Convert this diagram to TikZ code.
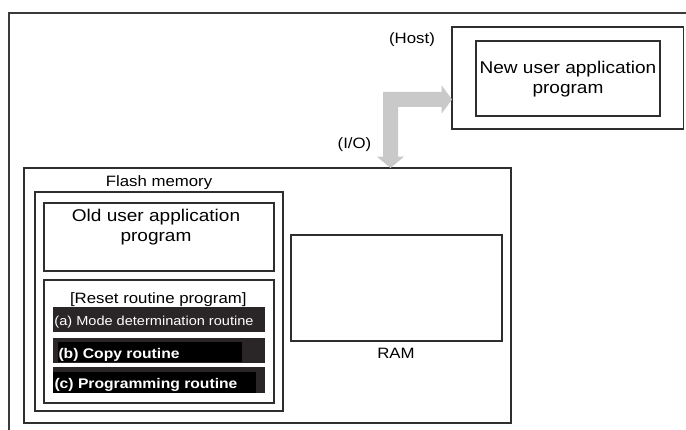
\documentclass[tikz,border=0pt]{standalone}
\usepackage{fontspec}
\setmainfont[FakeStretch=1.12]{Liberation Sans}
\definecolor{ln}{HTML}{2E2E2E}
\definecolor{framecol}{HTML}{3A3A3A}
\definecolor{arrowgray}{HTML}{C9C9C9}
\definecolor{barcol}{HTML}{2A2627}
\begin{document}
\begin{tikzpicture}[x=1pt,y=-1pt,
  box/.style={draw=ln, line width=1.4pt, inner sep=0pt, outer sep=0pt, anchor=north west},
  barbox/.style={fill=barcol, draw=none, inner sep=0pt, outer sep=0pt, anchor=north west},
  patch/.style={fill=black, draw=none, inner sep=0pt, outer sep=0pt, anchor=north west},
  lbl/.style={inner sep=0pt, outer sep=0pt, text=black, anchor=base},
  big/.style={font=\fontsize{17}{20}\selectfont},
  mid/.style={font=\fontsize{15}{18}\selectfont},
  small/.style={font=\fontsize{13}{15}\selectfont},
  boldlbl/.style={inner sep=0pt, outer sep=0pt, text=white, anchor=base west, font=\fontsize{14}{16}\selectfont\bfseries}]
\useasboundingbox (0,0) rectangle (686,430);
% outer frame
\draw[draw=framecol, line width=1.1pt] (9,430) -- (9,13) -- (686,13);
% host
\node[box, minimum width=231.5, minimum height=102] (hostout) at (452,27) {};
\node[box, minimum width=184, minimum height=75] (hostin) at (476,41) {};
\node[lbl, mid] (hostlbl) at (412,44) {(Host)};
\node[lbl, big, align=center] (newapp) at (568,94) {New user application\\program};
% flash memory area
\node[box, minimum width=487, minimum height=255] (chip) at (24,168) {};
\node[box, minimum width=248, minimum height=219] (flash) at (35,192) {};
\node[lbl, mid] (flashlbl) at (159,187) {Flash memory};
\node[box, minimum width=230, minimum height=68] (oldapp) at (44,203) {};
\node[lbl, big, align=center] (oldtxt) at (156,242) {Old user application\\program};
\node[box, minimum width=230, minimum height=123] (reset) at (44,280) {};
\node[lbl, mid] (resettxt) at (158.3,303.5) {[Reset routine program]};
% routine bars
\node[barbox, minimum width=212, minimum height=25] (bara) at (53,307) {};
\node[barbox, minimum width=212, minimum height=25] (barb) at (53,338) {};
\node[barbox, minimum width=212, minimum height=26] (barc) at (53,367) {};
\node[patch, minimum width=184, minimum height=20] (patchb) at (57.7,341.7) {};
\node[patch, minimum width=203, minimum height=21] (patchc) at (53,371.7) {};
\node[lbl, small, text=white] (txta) at (154,325.5) {(a) Mode determination routine};
\node[boldlbl] (txtb) at (58.5,358.5) {(b) Copy routine};
\begin{scope}
  \clip (53,367) rectangle (265,393);
  \node[boldlbl] (txtc) at (54.5,389) {(c) Programming routine};
\end{scope}
% RAM
\node[box, minimum width=211, minimum height=106] (ram) at (291,235) {};
\node[lbl, mid] (ramlbl) at (396,359) {RAM};
% I/O arrow
\node[lbl, mid] (iolbl) at (354.5,149) {(I/O)};
\coordinate (corner) at (383,92);
\fill[arrowgray] (corner) -- (441.7,92) -- (441.7,85.5) -- (hostout.west |- 0,99.5) -- (441.7,113.5) -- (441.7,107)
  -- (398,107) -- (398,156.7) -- (404,156.7) -- (chip.north -| 390.5,0) -- (377,156.7) -- (383,156.7) -- cycle;
\end{tikzpicture}
\end{document}
